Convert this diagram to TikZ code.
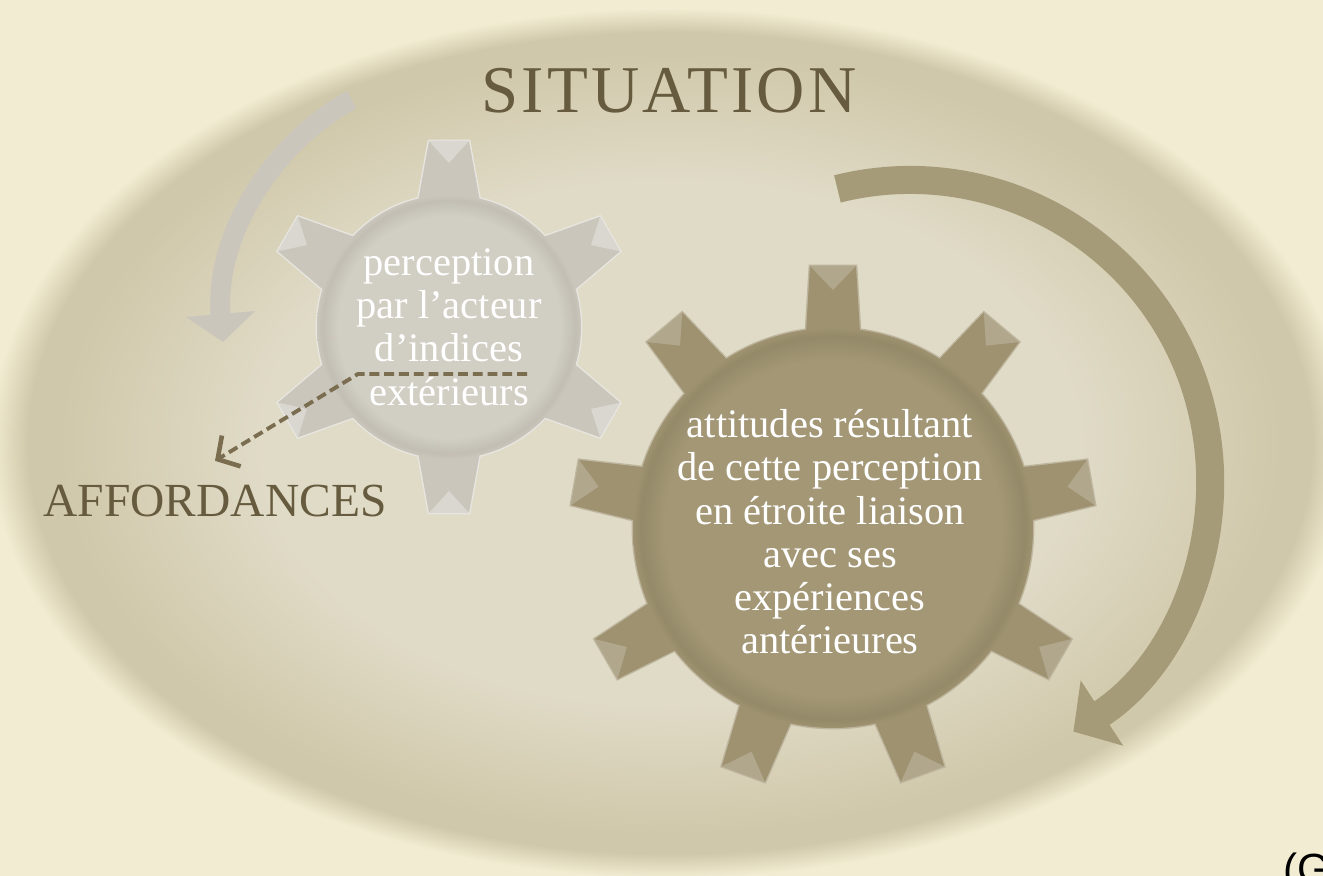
\documentclass[tikz,border=0pt]{standalone}
\usepackage{fontspec}
\setmainfont{Liberation Serif}
\newfontfamily\sansfont{Liberation Sans}
\usetikzlibrary{arrows.meta, calc}
\definecolor{cpapier}{RGB}{242,236,210}
\definecolor{cellipse}{RGB}{224,219,199}
\definecolor{canneau}{RGB}{208,200,170}
\definecolor{cgris}{RGB}{202,198,188}
\definecolor{cgrisclair}{RGB}{209,206,196}
\definecolor{cgrisombre}{RGB}{194,190,179}
\definecolor{cbrun}{RGB}{158,146,112}
\definecolor{cbrunclair}{RGB}{163,151,118}
\definecolor{cbrunombre}{RGB}{148,137,104}
\definecolor{cfleche}{RGB}{166,155,120}
\definecolor{ctitre}{RGB}{102,91,62}
\definecolor{ctrait}{RGB}{122,109,80}

\pgfdeclareradialshading{situation}{\pgfpoint{0bp}{0bp}}{color(0bp)=(cellipse); color(15bp)=(cellipse); color(22.5bp)=(canneau); color(23.6bp)=(canneau); color(25bp)=(cpapier); color(50bp)=(cpapier)}
\pgfdeclareradialshading{rouegris}{\pgfpoint{0bp}{0bp}}{color(0bp)=(cgrisclair); color(21bp)=(cgrisclair); color(24bp)=(cgrisombre); color(25bp)=(cgris); color(50bp)=(cgris)}
\pgfdeclareradialshading{rouebrun}{\pgfpoint{0bp}{0bp}}{color(0bp)=(cbrunclair); color(21bp)=(cbrunclair); color(24bp)=(cbrunombre); color(25bp)=(cbrun); color(50bp)=(cbrun)}

\begin{document}
\begin{tikzpicture}[x=0.01cm, y=0.01cm,
    texte/.style={align=center, text=white, inner sep=0pt, font=\fontsize{11.5}{12.3}\selectfont},
    titre/.style={anchor=base, text=ctitre, inner sep=0pt},
    bord/.style={draw=#1, line width=0.8pt},
    facette/.style={fill=white, opacity=.3}]

  \fill[cpapier] (0,0) rectangle (1323,876);
  \useasboundingbox (0,0) rectangle (1323,876);
  \shade[shading=situation] (670,433) ellipse[x radius=680, y radius=435];

  % fleche grise (gauche)
  \draw[line width=0.2cm, cgris, -{Triangle[width=0.68cm, length=0.28cm]}]
    (474,556) ++(119:252) arc[start angle=119, end angle=185, radius=252];

  % petite roue
  \begin{scope}[shift={(449,549)}]
    \foreach \a in {30,90,...,330}
      \draw[bord=cgrisclair!50!white, rotate=\a] (120,-32) -- (186,-20) -- (186,20) -- (120,32);
    \draw[bord=cgrisclair!50!white] (0,0) circle[radius=132];
    \foreach \a in {30,90,...,330}
      \fill[cgris, rotate=\a] (120,-32) -- (186,-20) -- (186,20) -- (120,32) -- cycle;
    \shade[shading=rouegris] (0,0) circle[radius=132];
    \foreach \a in {30,90,...,330}
      \fill[facette, rotate=\a] (186,-20) -- (164,0) -- (186,20) -- cycle;
  \end{scope}

  % grande roue
  \begin{scope}[shift={(833,348)}]
    \foreach \a in {10,50,...,330}
      \draw[bord=cbrunclair!70!white, rotate=\a] (180,-28) -- (262,-23) -- (262,23) -- (180,28);
    \draw[bord=cbrunclair!70!white] (0,0) circle[radius=200];
    \foreach \a in {10,50,...,330}
      \fill[cbrun, rotate=\a] (180,-28) -- (262,-23) -- (262,23) -- (180,28) -- cycle;
    \shade[shading=rouebrun] (0,0) circle[radius=200];
    \foreach \a in {10,50,...,330}
      \fill[facette, opacity=.2, rotate=\a] (262,-23) -- (238,0) -- (262,23) -- cycle;
  \end{scope}

  % fleche brune (droite)
  \draw[line width=0.28cm, cfleche, -{Triangle[width=0.76cm, length=0.34cm]}]
    (910,396) ++(104:300) arc[start angle=104, end angle=-57, radius=300];

  \node[titre, font=\fontsize{19}{22}\selectfont\addfontfeature{LetterSpace=5}] (situation) at (669,763) {SITUATION};
  \node[titre, font=\fontsize{13.5}{16}\selectfont] (affordances) at (215,359) {AFFORDANCES};

  \node[texte] (perception) at (449,549) {perception\\par l’acteur\\d’indices\\extérieurs};
  \node[texte] (attitudes) at (830,344) {attitudes résultant\\de cette perception\\en étroite liaison\\avec ses\\expériences\\antérieures};

  % lien vers les affordances
  \coordinate (indices) at (527,502);
  \coordinate (coude) at (358,502);
  \coordinate (versaff) at ($(affordances.north)+(0,24)$);
  \draw[ctrait, line width=1.1pt, dash pattern=on 2.8pt off 1.4pt,
        -{Straight Barb[length=1.6mm, width=3.6mm, line width=1.3pt]}]
    (indices) -- (coude) -- (versaff);

  \node[anchor=base west, inner sep=0pt, font=\sansfont\fontsize{12}{14}\selectfont] (source) at (1283,-8) {(G};
\end{tikzpicture}
\end{document}
